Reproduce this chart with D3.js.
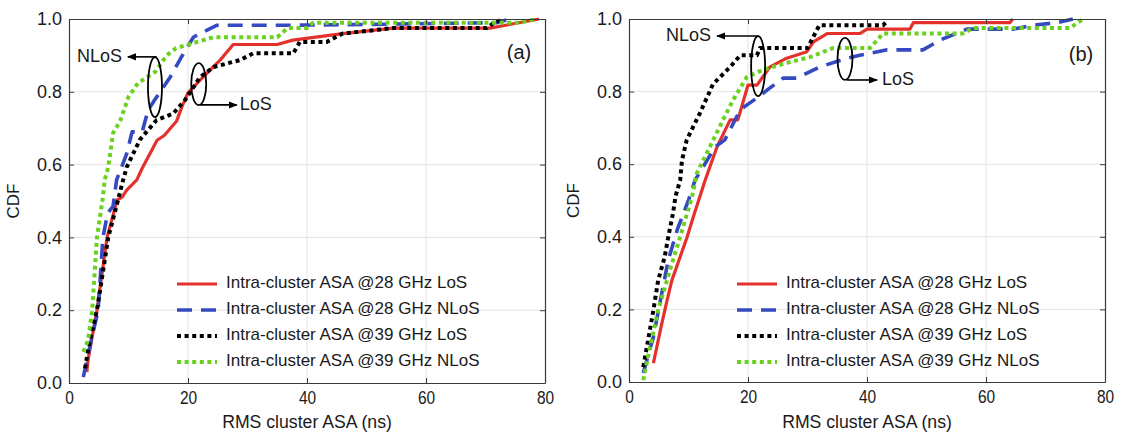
<!DOCTYPE html>
<html><head><meta charset="utf-8">
<script src="https://cdn.jsdelivr.net/npm/d3@7"></script>
<style>
html,body{margin:0;padding:0;background:#fff;}
svg text{font-family:"Liberation Sans",Arial,sans-serif;fill:#1a1a1a;}
</style></head>
<body>
<svg id="chart" width="1121" height="432"></svg>
<script>
// ---------- data ----------
const xTicks = [0, 20, 40, 60, 80];
const yTicks = [0, 0.2, 0.4, 0.6, 0.8, 1.0];
const seriesNames = ["Intra-cluster ASA @28 GHz LoS", "Intra-cluster ASA @28 GHz NLoS",
                     "Intra-cluster ASA @39 GHz LoS", "Intra-cluster ASA @39 GHz NLoS"];
const panelLabels = ["(a)", "(b)"];

// panel (a)
const a28LoS = [[3.0,0.03],[3.2,0.063],[4.7,0.2],[6.4,0.40],[8.1,0.503],[8.9,0.51],[9.7,0.53],[11.4,0.558],[12.3,0.59],[14.8,0.667],[16,0.68],[18.1,0.72],[19,0.76],[20,0.797],[22.5,0.84],[25.4,0.887],[27.6,0.93],[35,0.93],[37.6,0.942],[46,0.96],[54.5,0.975],[70.8,0.975],[74,0.985],[79,1.0]];
const a28NLoS = [[2.4,0.016],[3.5,0.1],[4.9,0.2],[5.7,0.40],[6.5,0.467],[7.4,0.485],[8,0.558],[9,0.6],[9.7,0.63],[10.6,0.69],[12.3,0.69],[13.3,0.75],[14.5,0.78],[17,0.84],[18.7,0.89],[20.9,0.95],[22,0.96],[24.9,0.983],[37.6,0.983],[50,0.985],[72,0.99],[74,1.0]];
const a39LoS = [[2.7,0.04],[3.3,0.1],[4.7,0.2],[6.6,0.4],[8.2,0.5],[9.1,0.558],[9.7,0.593],[11.9,0.668],[14.7,0.722],[17.5,0.74],[19.5,0.777],[22,0.84],[24.3,0.868],[28.7,0.887],[31,0.906],[37.7,0.906],[38.8,0.937],[43.3,0.937],[46,0.96],[54.5,0.975],[70.2,0.975],[71.5,0.99],[73,1.0]];
const a39NLoS = [[2.4,0.085],[3.2,0.118],[3.9,0.2],[4.7,0.4],[5.7,0.51],[6,0.558],[6.6,0.593],[7.4,0.687],[8.6,0.72],[10,0.786],[11.6,0.824],[14.5,0.855],[16.4,0.9],[18,0.92],[20.9,0.934],[24.3,0.95],[35,0.95],[36.7,0.975],[40,0.975],[41,0.99],[75.8,0.99],[78.6,1.0]];

// panel (b)
const b28LoS = [[4.1,0.052],[5.5,0.16],[6.3,0.218],[7.2,0.28],[9.7,0.396],[11,0.465],[12.8,0.556],[14.8,0.648],[17,0.722],[18.3,0.722],[20,0.818],[21.5,0.818],[23.7,0.868],[26.5,0.892],[29.9,0.91],[31,0.937],[33.3,0.96],[38.8,0.96],[40,0.972],[47.2,0.972],[47.8,0.99],[64,0.99],[64.5,1.0]];
const b28NLoS = [[2.4,0.025],[4.1,0.124],[5.2,0.218],[6.6,0.336],[8.1,0.419],[10,0.501],[11.1,0.556],[14.5,0.648],[16.1,0.667],[18.7,0.75],[21.7,0.785],[23.2,0.804],[25.9,0.837],[28.2,0.837],[32.1,0.868],[36.6,0.892],[38.8,0.9],[43.4,0.915],[49.4,0.915],[52.3,0.942],[56.8,0.972],[64.5,0.972],[68,0.983],[72,0.99],[74.6,1.0]];
const b39LoS = [[2.4,0.041],[4.1,0.198],[4.9,0.28],[6,0.345],[6.6,0.4],[7.4,0.465],[7.8,0.51],[8.6,0.556],[8.9,0.61],[9.7,0.667],[11.9,0.74],[14.1,0.82],[17,0.868],[18.7,0.9],[21.5,0.9],[22,0.92],[30,0.92],[32,0.983],[42.7,0.983],[43.5,0.995]];
const b39NLoS = [[2.4,0.005],[3.2,0.07],[4.9,0.198],[6.9,0.309],[8.6,0.4],[10.6,0.51],[11.4,0.575],[13.6,0.648],[15.8,0.722],[17.5,0.777],[19.8,0.84],[22.5,0.86],[26.5,0.879],[30.4,0.895],[34.3,0.92],[40.5,0.92],[42.7,0.96],[56.1,0.96],[57.8,0.975],[74.1,0.975],[76.3,1.0]];

// annotations (data units): ellipse centres, arrow ends, text anchors
const annA = {nlosEll:[14.45,0.813], nlosArrow:[[14.7,0.896],[9.9,0.896]], nlosText:[8.9,0.896],
              losEll:[21.8,0.821], losArrow:[[22.0,0.764],[28.2,0.764]], losText:[28.7,0.764]};
const annB = {nlosEll:[21.7,0.870], nlosArrow:[[21.7,0.953],[14.8,0.953]], nlosText:[13.8,0.953],
              losEll:[36.3,0.890], losArrow:[[36.6,0.832],[41.7,0.832]], losText:[42.5,0.832]};

// ---------- styles ----------
const styles = [
  {color:"#e5312b", width:3.2, dash:null},
  {color:"#3549c0", width:3.6, dash:"15,9"},
  {color:"#000000", width:4, dash:"4,3.6"},
  {color:"#6ad21e", width:4, dash:"4,3.6"}
];

const svg = d3.select("#chart");
const defs = svg.append("defs");
defs.append("marker").attr("id","arr").attr("viewBox","0 0 10 10").attr("refX",9).attr("refY",5)
  .attr("markerWidth",9).attr("markerHeight",9).attr("markerUnits","userSpaceOnUse").attr("orient","auto")
  .append("path").attr("d","M0,1 L10,5 L0,9 Z").attr("fill","#000");

const panels = [
  {left:69, top:19, right:545, bottom:383, data:[a28LoS,a28NLoS,a39LoS,a39NLoS], ann:annA, label:panelLabels[0], labelPos:[519,54]},
  {left:629, top:19, right:1105, bottom:382, data:[b28LoS,b28NLoS,b39LoS,b39NLoS], ann:annB, label:panelLabels[1], labelPos:[1081,56]}
];

panels.forEach((p, pi) => {
  const x = d3.scaleLinear().domain([0,80]).range([p.left,p.right]);
  const y = d3.scaleLinear().domain([0,1]).range([p.bottom,p.top]);
  const g = svg.append("g");

  // grid
  g.append("g").selectAll("line").data(xTicks.slice(1,-1)).join("line")
    .attr("x1",d=>x(d)).attr("x2",d=>x(d)).attr("y1",p.top).attr("y2",p.bottom)
    .attr("stroke","#e4e4e4").attr("stroke-width",1);
  g.append("g").selectAll("line").data(yTicks.slice(1,-1)).join("line")
    .attr("y1",d=>y(d)).attr("y2",d=>y(d)).attr("x1",p.left).attr("x2",p.right)
    .attr("stroke","#e4e4e4").attr("stroke-width",1);

  // curves
  const line = d3.line().x(d=>x(d[0])).y(d=>y(d[1]));
  p.data.forEach((s,i)=>{
    const st = styles[i];
    g.append("path").datum(s).attr("d",line).attr("fill","none")
      .attr("stroke",st.color).attr("stroke-width",st.width)
      .attr("stroke-dasharray",st.dash).attr("stroke-linejoin","round");
  });

  // axes (MATLAB box style, inward ticks)
  const tickLen = 5;
  const axB = d3.axisBottom(x).tickValues(xTicks).tickSizeInner(-tickLen).tickSizeOuter(0).tickPadding(8).tickFormat(d3.format("d"));
  const axT = d3.axisTop(x).tickValues(xTicks).tickSizeInner(-tickLen).tickSizeOuter(0).tickFormat("");
  const axL = d3.axisLeft(y).tickValues(yTicks).tickSizeInner(-tickLen).tickSizeOuter(0).tickPadding(7).tickFormat(d3.format(".1f"));
  const axR = d3.axisRight(y).tickValues(yTicks).tickSizeInner(-tickLen).tickSizeOuter(0).tickFormat("");
  const gb = g.append("g").attr("transform",`translate(0,${p.bottom})`).call(axB);
  const gt = g.append("g").attr("transform",`translate(0,${p.top})`).call(axT);
  const gl = g.append("g").attr("transform",`translate(${p.left},0)`).call(axL);
  const gr = g.append("g").attr("transform",`translate(${p.right},0)`).call(axR);
  [gb,gt,gl,gr].forEach(a=>{
    a.select(".domain").attr("stroke","#3a3a3a").attr("stroke-width",1.2);
    a.selectAll(".tick line").attr("stroke","#3a3a3a");
    a.selectAll("text").attr("fill","#1a1a1a");
  });
  gb.selectAll("text").style("font-size","18px").attr("transform","scale(0.86,1)");
  gl.selectAll("text").style("font-size","18px");

  // axis labels
  g.append("text").attr("transform",`translate(${(p.left+p.right)/2},428) scale(0.93,1)`).attr("text-anchor","middle")
    .style("font-size","19px")
    .text("RMS cluster ASA (ns)");
  g.append("text").attr("transform",`translate(${p.left-50},${(p.top+p.bottom)/2}) rotate(-90)`)
    .attr("text-anchor","middle").style("font-size","17px").text("CDF");

  // panel label
  g.append("text").attr("x",p.labelPos[0]).attr("y",p.labelPos[1]).attr("text-anchor","middle")
    .attr("dominant-baseline","middle").style("font-size","20px").text(p.label);

  // annotations
  const a = p.ann;
  g.append("ellipse").attr("cx",x(a.nlosEll[0])).attr("cy",y(a.nlosEll[1])).attr("rx",7).attr("ry",30)
    .attr("fill","none").attr("stroke","#000").attr("stroke-width",1.8);
  g.append("ellipse").attr("cx",x(a.losEll[0])).attr("cy",y(a.losEll[1])).attr("rx",7.5).attr("ry",21)
    .attr("fill","none").attr("stroke","#000").attr("stroke-width",1.8);
  [a.nlosArrow, a.losArrow].forEach(ar=>{
    g.append("line").attr("x1",x(ar[0][0])).attr("y1",y(ar[0][1])).attr("x2",x(ar[1][0])).attr("y2",y(ar[1][1]))
      .attr("stroke","#000").attr("stroke-width",1.6).attr("marker-end","url(#arr)");
  });
  g.append("text").attr("x",x(a.nlosText[0])).attr("y",y(a.nlosText[1])).attr("text-anchor","end")
    .attr("dominant-baseline","middle").style("font-size","18px").text("NLoS");
  g.append("text").attr("x",x(a.losText[0])).attr("y",y(a.losText[1])).attr("text-anchor","start")
    .attr("dominant-baseline","middle").style("font-size","18px").text("LoS");

  // legend
  const lx0 = p.left + 108, lx1 = p.left + 148, tx = p.left + 157;
  const ly0 = 284, ldy = 26;
  seriesNames.forEach((name,i)=>{
    const st = styles[i];
    const yy = ly0 + i*ldy;
    g.append("line").attr("x1",lx0).attr("x2",lx1).attr("y1",yy).attr("y2",yy)
      .attr("stroke",st.color).attr("stroke-width",st.width).attr("stroke-dasharray",st.dash);
    g.append("text").attr("x",tx).attr("y",yy).attr("dominant-baseline","middle")
      .style("font-size","17px").text(name);
  });
});
</script>
</body></html>
